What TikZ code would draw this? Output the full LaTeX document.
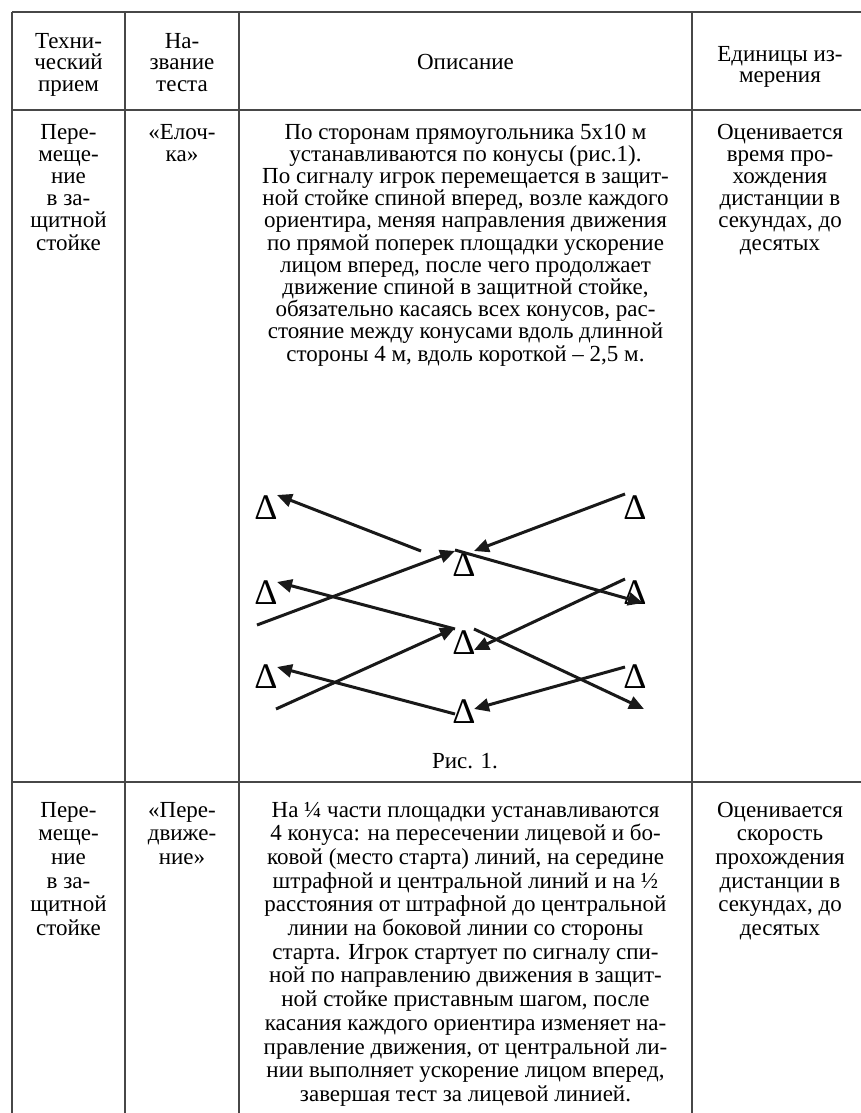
\documentclass[tikz,border=0pt]{standalone}
\usepackage{fontspec}
\setmainfont{Liberation Serif}
\usetikzlibrary{arrows.meta}
\begin{document}
\begin{tikzpicture}[x=1pt,y=-1pt,
  rule/.style={line width=1.3pt, draw=black!72},
  cellh/.style={anchor=base, inner sep=0pt, align=center, font=\fontsize{23}{21.3}\selectfont},
  cella/.style={anchor=base, inner sep=0pt, align=center, font=\fontsize{23}{22.2}\selectfont},
  cellb/.style={anchor=base, inner sep=0pt, align=center, font=\fontsize{23}{23.7}\selectfont},
  cone/.style={anchor=base, inner sep=0pt, font=\fontsize{36}{36}\selectfont},
  mv/.style={line width=3pt, draw=black!90, -{Triangle[length=15pt,width=13pt]}},
]
\useasboundingbox (0,0) rectangle (861,1113);
\fill[white] (0,0) rectangle (861,1113);
% table rules
\draw[rule] (12,12) -- (861,12);
\draw[rule] (12,110) -- (861,110);
\draw[rule] (12,782) -- (861,782);
\draw[rule] (12,12) -- (12,1113);
\draw[rule] (125,12) -- (125,1113);
\draw[rule] (239,12) -- (239,1113);
\draw[rule] (692,12) -- (692,1113);
% header (anchor base = baseline of last line)
\node[cellh] (h1) at (68.5,91.1) {Техни-\\ческий\\прием};
\node[cellh] (h2) at (182,91.1) {На-\\звание\\теста};
\node[cellh] (h3) at (465.5,70) {Описание};
\node[cellh] (h4) at (780,82.5) {Единицы из-\\мерения};
% row 1
\node[cella] (a1) at (68.5,250) {Пере-\\меще-\\ние\\в за-\\щитной\\стойке};
\node[cella] (a2) at (182,161.2) {«Елоч-\\ка»};
\node[cella] (a3) at (465.5,361) {По сторонам прямоугольника 5х10 м\\
устанавливаются по конусы (рис.1).\\
По сигналу игрок перемещается в защит-\\
ной стойке спиной вперед, возле каждого\\
ориентира, меняя направления движения\\
по прямой поперек площадки ускорение\\
лицом вперед, после чего продолжает\\
движение спиной в защитной стойке,\\
обязательно касаясь всех конусов, рас-\\
стояние между конусами вдоль длинной\\
стороны 4 м, вдоль короткой – 2,5 м.};
\node[cella] (a4) at (780,250) {Оценивается\\время про-\\хождения\\дистанции в\\секундах, до\\десятых};
% figure
\node[cone] (c11) at (266,519) {Δ};
\node[cone] (c21) at (266,604) {Δ};
\node[cone] (c31) at (266,688) {Δ};
\node[cone] (c12) at (464,576) {Δ};
\node[cone] (c22) at (464,654) {Δ};
\node[cone] (c32) at (464,723) {Δ};
\node[cone] (c13) at (635,519) {Δ};
\node[cone] (c23) at (635,604) {Δ};
\node[cone] (c33) at (635,688) {Δ};
\coordinate (s1) at (421,551); \coordinate (e1) at (277,495);
\coordinate (s2) at (625,494); \coordinate (e2) at (474,551);
\coordinate (s3) at (257,625); \coordinate (e3) at (455,551);
\coordinate (s4) at (455,550); \coordinate (e4) at (643,603);
\coordinate (s5) at (625,579); \coordinate (e5) at (474,650);
\coordinate (s6) at (455,629); \coordinate (e6) at (277,582);
\coordinate (s7) at (276,709); \coordinate (e7) at (455,628);
\coordinate (s8) at (474,629); \coordinate (e8) at (644,709);
\coordinate (s9) at (625,667); \coordinate (e9) at (474,709);
\coordinate (s10) at (455,714); \coordinate (e10) at (277,667);
\foreach \i in {1,...,10} {\draw[mv] (s\i) -- (e\i);}
\node[cella] (cap) at (465,768) {Рис. 1.};
% row 2
\node[cellb] (b1) at (68.5,935.5) {Пере-\\меще-\\ние\\в за-\\щитной\\стойке};
\node[cellb] (b2) at (182,864.4) {«Пере-\\движе-\\ние»};
\node[cellb] (b3) at (465.5,1101.4) {На ¼ части площадки устанавливаются\\
4 конуса: на пересечении лицевой и бо-\\
ковой (место старта) линий, на середине\\
штрафной и центральной линий и на ½\\
расстояния от штрафной до центральной\\
линии на боковой линии со стороны\\
старта. Игрок стартует по сигналу спи-\\
ной по направлению движения в защит-\\
ной стойке приставным шагом, после\\
касания каждого ориентира изменяет на-\\
правление движения, от центральной ли-\\
нии выполняет ускорение лицом вперед,\\
завершая тест за лицевой линией.};
\node[cellb] (b4) at (780,935.5) {Оценивается\\скорость\\прохождения\\дистанции в\\секундах, до\\десятых};
\end{tikzpicture}
\end{document}
